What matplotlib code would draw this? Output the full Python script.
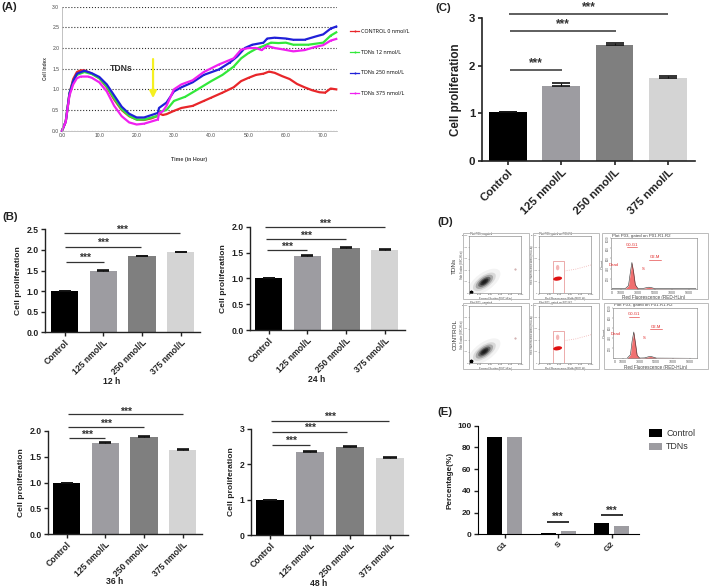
import matplotlib
matplotlib.use('Agg')
import matplotlib.pyplot as plt
from matplotlib.patches import Ellipse, Rectangle

plt.rcParams['font.family'] = ['Liberation Sans', 'DejaVu Sans']

W, H = 709, 588

# Panel A, cell index curves
red_t = [0, 1, 2, 3, 4, 5, 6, 8, 10, 12, 14, 16, 18, 20, 22, 24, 25.7, 26, 27, 28, 30, 32, 35, 38, 40, 43, 46, 48, 50, 52, 54, 55.5, 57, 59, 61, 63, 65, 67, 69, 70.5, 72, 73.5]
red_v = [0, .22, .9, 1.25, 1.42, 1.46, 1.46, 1.38, 1.27, 1.05, .75, .5, .35, .27, .26, .3, .36, .42, .38, .4, .48, .55, .6, .72, .8, .92, 1.05, 1.2, 1.28, 1.35, 1.38, 1.43, 1.4, 1.32, 1.25, 1.13, 1.05, .98, .93, .92, 1.02, 1.0]
green_t = [0, 1, 2, 3, 4, 6, 8, 10, 12, 14, 16, 18, 20, 22, 25.7, 26, 28, 30, 33, 36, 40, 43, 46, 48, 50, 52, 54, 56, 58, 60, 62, 66, 70, 72, 73.5]
green_v = [0, .22, .9, 1.2, 1.35, 1.42, 1.37, 1.27, 1.07, .78, .52, .36, .27, .27, .36, .45, .5, .72, .82, .98, 1.2, 1.35, 1.55, 1.75, 1.88, 1.98, 2.05, 2.13, 2.12, 2.13, 2.08, 2.08, 2.13, 2.3, 2.38]
blue_t = [0, 1, 2, 3, 4, 6, 8, 10, 12, 14, 16, 18, 20, 22, 25.7, 26, 28, 30, 32, 35, 38, 42, 45, 47, 49, 51, 54, 55, 57, 60, 62, 65, 68, 70, 72, 73.5]
blue_v = [0, .22, .9, 1.2, 1.38, 1.45, 1.39, 1.3, 1.12, .85, .58, .41, .32, .32, .43, .55, .68, .95, 1.05, 1.17, 1.35, 1.48, 1.65, 1.8, 2.0, 2.08, 2.13, 2.23, 2.25, 2.23, 2.2, 2.2, 2.28, 2.33, 2.47, 2.52]
mag_t = [0, 1, 2, 3, 4, 5, 7, 8, 10, 12, 14, 16, 18, 20, 22, 25.7, 26, 27, 28, 30, 32, 35, 38, 42, 46, 48, 50, 52, 53.5, 55, 57, 59, 62, 65, 68, 70, 72, 73.5]
mag_v = [0, .22, .85, 1.12, 1.27, 1.31, 1.31, 1.28, 1.17, .95, .6, .35, .2, .15, .17, .27, .42, .47, .6, 1.0, 1.12, 1.22, 1.42, 1.6, 1.75, 1.96, 2.0, 2.0, 1.95, 2.05, 2.0, 1.97, 1.92, 1.95, 2.03, 2.07, 2.18, 2.22]
legend_a = ['CONTROL 0 nmol/L', 'TDNs 12 nmol/L', 'TDNs 250 nmol/L', 'TDNs 375 nmol/L']

# Bar panels
doses = ['Control', '125 nmol/L', '250 nmol/L', '375 nmol/L']
bar_colors = ['#000000', '#9d9ca1', '#7f7f7f', '#d4d4d4']
vals_12 = [1.0, 1.5, 1.84, 1.95]
vals_24 = [1.0, 1.44, 1.59, 1.55]
vals_36 = [1.0, 1.77, 1.88, 1.64]
vals_48 = [1.0, 2.35, 2.48, 2.18]
vals_c = [1.02, 1.57, 2.43, 1.74]
errs_12 = [0, .01, .01, .01]
errs_24 = [0, .01, .01, .01]
errs_36 = [0, .02, .02, .01]
errs_48 = [0, .02, .02, .01]
errs_c = [0, .075, .06, .045]

# Brackets: level, start and end category
sig_12 = [(1.715, .03, 1.02), (2.07, .01, 1.97), (2.40, -.02, 2.99)]
sig_24 = [(1.55, -.05, .98), (1.77, -.08, 2.0), (2.0, -.09, 3.0)]
sig_36 = [(1.87, .05, 1.0), (2.08, .03, 2.01), (2.32, .03, 3.01)]
sig_48 = [(2.54, .05, .99), (2.9, .05, 1.93), (3.21, .01, 2.96)]
sig_c = [(1.91, .05, 1.02), (2.73, .05, 2.03), (3.08, .02, 3.0)]

# Panel E
phases = ['G1', 'S', 'G2']
control_pct = [90, 1, 10]
tdns_pct = [90, 3, 8]
sig_e = [(11.7, .794, 1.206), (17.8, 1.798, 2.21)]

# Panel D, density blobs and histograms
fsc_w = [7000, 5000, 3800, 2700, 1800, 1000]
fsc_h = [3200, 2200, 1700, 1200, 800, 450]
fsc_alpha = [.05, .12, .25, .45, .7, .9]
hist_x = [0, 1500, 1900, 2100, 2300, 2500, 2700, 3000, 3600, 4000, 4300, 4600, 5000, 9800]
hist_row1 = [0, 0, 60, 300, 520, 330, 80, 5, 5, 20, 30, 20, 3, 0]
hist_row2 = [0, 0, 70, 340, 520, 300, 60, 5, 8, 28, 38, 25, 4, 0]
hist_ticks = [0, 1000, 3000, 5000, 7000, 9000]
count_ticks = [200, 400, 600, 800, 1000]


def add_ax(left, top, right, bottom):
    return fig.add_axes([left / W, 1 - bottom / H, (right - left) / W, (bottom - top) / H])


def fig_text(x, y, s, **kw):
    kw.setdefault('ha', 'center')
    kw.setdefault('va', 'center')
    fig.text(x / W, 1 - y / H, s, **kw)


def bar_panel(left, top, right, bottom, ymax, yticks, c0, sp, width, vals, errs, sig, fmt,
              fs=6.2, lab_fs=6.1, star_fs=7.5, lw=1.0, sig_lw=.9, star_off=.09, pad=3):
    ax = add_ax(left, top, right, bottom)
    ax.set_xlim((left - c0) / sp, (right - c0) / sp)
    ax.set_ylim(0, ymax)
    x = range(len(doses))
    # only the upper whisker shows above each bar
    ax.bar(x, vals, width=width, color=bar_colors, yerr=[[0] * len(errs), errs],
           error_kw=dict(ecolor='#111111', elinewidth=.8, capsize=width * sp * .17, capthick=1.2))
    ax.set_xticks(list(x))
    ax.set_xticklabels(doses, rotation=45, ha='right', rotation_mode='anchor', fontsize=fs,
                       fontweight='bold', color='#222222')
    ax.set_yticks(yticks)
    ax.set_yticklabels([fmt % t for t in yticks], fontsize=fs, fontweight='bold', color='#222222')
    ax.set_ylabel('Cell proliferation', fontsize=lab_fs, fontweight='bold', color='#222222', labelpad=pad)
    ax.tick_params(length=3, width=lw, color='#222222', pad=1.5)
    for s in ['top', 'right']:
        ax.spines[s].set_visible(False)
    for s in ['left', 'bottom']:
        ax.spines[s].set_linewidth(lw)
        ax.spines[s].set_color('#222222')
    for level, a, b in sig:
        ax.plot([a, b], [level, level], color='#333333', lw=sig_lw, clip_on=False, solid_capstyle='butt')
        ax.text((a + b) / 2, level + star_off * ymax / 2.5, '***', ha='center', va='center',
                fontsize=star_fs, fontweight='bold', color='#333333', clip_on=False)
    return ax


def style_thumb(ax, title, xlabel, ylabel, fs=1.6):
    ax.text(.01, 1.005, title, transform=ax.transAxes, fontsize=2, va='bottom', color='#444444')
    ax.set_xlabel(xlabel, fontsize=1.9, color='#444444')
    ax.set_ylabel(ylabel, fontsize=1.9, color='#444444')
    ax.xaxis.set_label_coords(.5, -.07)
    ax.yaxis.set_label_coords(-.095, .5)
    ax.tick_params(labelsize=fs, length=.6, width=.3, pad=.2, colors='#555555')
    for s in ax.spines.values():
        s.set_linewidth(.4)
        s.set_color('#777777')


def frame(left, top, right, bottom):
    fig.add_artist(Rectangle((left / W, 1 - bottom / H), (right - left) / W, (bottom - top) / H,
                             transform=fig.transFigure, fill=False, ec='#bbbbbb', lw=.7))


def flow_row(top, hist_vals, x3l, x3r, h_top, h_bot, tick_fs):
    # forward / side scatter thumbnail
    frame(462.7, top, 528.7, top + 66)
    ax = add_ax(469.3, top + 2.7, 521.3, top + 60)
    ax.set_xlim(0, 10000)
    ax.set_ylim(0, 10000)
    for w, h, a in zip(fsc_w, fsc_h, fsc_alpha):
        ax.add_patch(Ellipse((2900, 2000), w, h, angle=32, color='#1a1a1a', alpha=a, lw=0))
    ax.plot([300], [300], marker='*', ms=2.5, color='black')
    ax.plot([8800], [4300], marker='.', ms=1, color='#c9a0a0')
    style_thumb(ax, 'Plot P01, ungated', 'Forward Scatter (FSC-HLin)', 'Side Scatter (SSC-HLin)')

    # red gated thumbnail
    frame(532.7, top, 598.7, top + 66)
    ax = add_ax(538.7, top + 2.7, 591.3, top + 60)
    ax.set_xlim(0, 10000)
    ax.set_ylim(0, 10000)
    ax.add_patch(Rectangle((2660, 0), 2210, 5580, fill=False, ec='#e58a8a', lw=.5))
    ax.add_patch(Ellipse((3600, 2560), 1700, 700, angle=8, color='#e01010', lw=0))
    ax.add_patch(Ellipse((3600, 4480), 650, 950, color='#e01010', alpha=.3, lw=0))
    ax.plot([4900, 7000, 10000], [3900, 4200, 4950], color='#f0b0b0', lw=.6, ls=':')
    style_thumb(ax, 'Plot P01, gated on P01.R1', 'Red Fluorescence Width (RED-W)', 'Red Fluorescence Area (RED-A)')

    # DNA histogram
    frame(x3l - 9.3, top, x3r + 11, top + 65.5)
    ax = add_ax(x3l, h_top, x3r, h_bot)
    ax.set_xlim(-150, 9900)
    ax.set_ylim(0, 1000)
    ax.fill_between(hist_x, hist_vals, color='#f07070', lw=0)
    ax.plot(hist_x, hist_vals, color='#333333', lw=.4)
    ax.set_xticks(hist_ticks)
    ax.set_yticks(count_ticks)
    style_thumb(ax, '', 'Red Fluorescence (RED-HLin)', 'Count')
    ax.text(.01, 1.01, 'Plot P03, gated on P01.R1.R2', transform=ax.transAxes, fontsize=3.2, va='bottom', color='#444444')
    ax.xaxis.label.set_fontsize(3.3)
    ax.yaxis.label.set_fontsize(2.8)
    ax.xaxis.set_label_coords(.5, -.13)
    ax.yaxis.set_label_coords(-.075, .5)
    ax.tick_params(labelsize=tick_fs, length=1, pad=.5)
    ax.tick_params(axis='y', labelsize=2, labelrotation=90, length=.8, pad=.2)
    for lab in ax.get_yticklabels():
        lab.set_va('center')
    for label, x, y in [('G0-G1', 2300, 870), ('G2-M', 5000, 620), ('Dead', 150, 480), ('S', 3600, 400)]:
        ax.text(x, y, label, color='#e02020', fontsize=3, ha='center', va='center')
    ax.plot([1700, 2900], [820, 820], color='#e02020', lw=.4)
    ax.plot([4300, 5700], [570, 570], color='#e02020', lw=.4)


fig = plt.figure(figsize=(W / 100, H / 100), dpi=100)

# Panel A
ax_a = add_ax(62, 6.7, 337, 130.7)
ax_a.set_xlim(0, 73.7)
ax_a.set_ylim(0, 3.0)
ax_a.set_yticks([0, .5, 1, 1.5, 2, 2.5, 3])
ax_a.set_xticks([0, 10, 20, 30, 40, 50, 60, 70])
ax_a.set_xticklabels(['%.1f' % t for t in [0, 10, 20, 30, 40, 50, 60, 70]])
ax_a.set_yticklabels(['%.1f' % t for t in [0, .5, 1, 1.5, 2, 2.5, 3]])
ax_a.tick_params(labelsize=3.6, length=0, pad=2, labelcolor='#444444')
ax_a.grid(axis='y', color='#333333', ls=':', lw=.8)
for s in ['top', 'right']:
    ax_a.spines[s].set_visible(False)
for s in ['left', 'bottom']:
    ax_a.spines[s].set_color('#aaaaaa')
    ax_a.spines[s].set_linewidth(.5)
curves = [(red_t, red_v, '#e8262a'), (green_t, green_v, '#32e83a'), (blue_t, blue_v, '#2020d8'), (mag_t, mag_v, '#f020f0')]
for (t, v, c), name in zip(curves, legend_a):
    ax_a.plot(t, v, color=c, lw=1.6, label=name, clip_on=False, marker='.', ms=1.5, mew=0)
ax_a.set_xlabel('Time (in Hour)', fontsize=3.8, fontweight='bold', color='#444444', labelpad=13,
                x=(189 - 62) / 275)
ax_a.set_ylabel('Cell Index', fontsize=3.4, fontweight='bold', color='#444444', labelpad=3)
ax_a.text(15.9, 1.5, 'TDNs', fontsize=6.2, fontweight='bold', color='#333333', ha='center', va='center')
ax_a.annotate('', xy=(24.4, .72), xytext=(24.4, 1.8),
              arrowprops=dict(arrowstyle='-|>', color='#f5f020', lw=1.6, mutation_scale=10))
leg = fig.legend(*ax_a.get_legend_handles_labels(), loc='upper left', bbox_to_anchor=(350 / W, 1 - 29 / H),
                 frameon=False, labelspacing=2.9, handlelength=1.7, handletextpad=.35,
                 borderaxespad=0, borderpad=0, prop={'family': ['Open Sans', 'DejaVu Sans'], 'size': 3.9})
for line in leg.get_lines():
    line.set_linewidth(.9)
    line.set_markersize(3)

# Panel B
bar_panel(45, 229.3, 200, 332.3, 2.5, [0, .5, 1, 1.5, 2, 2.5], 64.7, 38.7, .705, vals_12, errs_12, sig_12, '%.1f')
bar_panel(250, 226.7, 405, 330, 2.0, [0, .5, 1, 1.5, 2], 268.7, 38.7, .705, vals_24, errs_24, sig_24, '%.1f', star_off=.09 * .8)
bar_panel(47.7, 431, 202, 534.3, 2.0, [0, .5, 1, 1.5, 2], 66.7, 38.7, .705, vals_36, errs_36, sig_36, '%.1f', star_off=.09 * .8)
bar_panel(250.7, 428.7, 408, 535.3, 3, [0, 1, 2, 3], 270.3, 40, .705, vals_48, errs_48, sig_48, '%d', star_off=.09 * 1.2)
for x, y, s in [(112, 382, '12 h'), (317, 380, '24 h'), (115, 582, '36 h'), (319, 584, '48 h')]:
    fig_text(x, y, s, fontsize=6.2, fontweight='bold', color='#222222')

# Panel C
bar_panel(481.7, 18.3, 695, 161, 3, [0, 1, 2, 3], 507.8, 53.4, .705, vals_c, errs_c, sig_c, '%d',
          fs=8.2, lab_fs=8.4, star_fs=8.6, lw=1.2, sig_lw=1.1, star_off=.12, pad=5)

# Panel D
flow_row(233.3, hist_row1, 611, 696.7, 238.3, 288.7, 2.6)
flow_row(303, hist_row2, 613.3, 697.3, 307.7, 358.3, 2.6)
fig_text(454, 266, 'TDNs', fontsize=4.6, rotation=90, color='#333333')
fig_text(455.5, 335, 'CONTROL', fontsize=4.6, rotation=90, color='#333333')

# Panel E
ax_e = add_ax(477.7, 425.7, 638.7, 534.3)
ax_e.set_xlim((477.7 - 504.5) / 53.5, (638.7 - 504.5) / 53.5)
ax_e.set_ylim(0, 100)
bw = 15 / 53.5
offset = 10 / 53.5
ax_e.bar([i - offset for i in range(3)], control_pct, width=bw, color='#000000', label='Control')
ax_e.bar([i + offset for i in range(3)], tdns_pct, width=bw, color='#9d9ca1', label='TDNs')
ax_e.set_xticks(range(3))
ax_e.set_xticklabels(phases, rotation=45, ha='right', rotation_mode='anchor', fontsize=6, fontweight='bold', color='#222222')
ax_e.set_yticks([0, 20, 40, 60, 80, 100])
ax_e.set_yticklabels([str(t) for t in [0, 20, 40, 60, 80, 100]], fontsize=6, fontweight='bold', color='#222222')
ax_e.set_ylabel('Percentage(%)', fontsize=5.9, fontweight='bold', color='#222222', labelpad=3)
ax_e.tick_params(length=3, width=1, color='#222222', pad=1.5)
for s in ['top', 'right']:
    ax_e.spines[s].set_visible(False)
for level, a, b in sig_e:
    ax_e.plot([a, b], [level, level], color='#111111', lw=1.2, clip_on=False, solid_capstyle='butt')
    ax_e.text((a + b) / 2, level + 4, '***', ha='center', va='center', fontsize=7, fontweight='bold', color='#333333')
ax_e.legend(loc='upper left', bbox_to_anchor=((649 - 477.7) / 161, 1 - (429 - 425.7) / 108.6), frameon=False,
            fontsize=6.4, handlelength=1.45, handleheight=.95, handletextpad=.5, labelspacing=.5,
            borderaxespad=0, borderpad=0, labelcolor='#333333')

# Panel letters
for x, y, s in [(1, 7, '(A)'), (2, 217, '(B)'), (435, 8, '(C)'), (437, 222, '(D)'), (437, 412, '(E)')]:
    fig_text(x, y, s, ha='left', fontsize=8.2, fontweight='bold', color='#222222')

fig.savefig('out.png', dpi=100)
